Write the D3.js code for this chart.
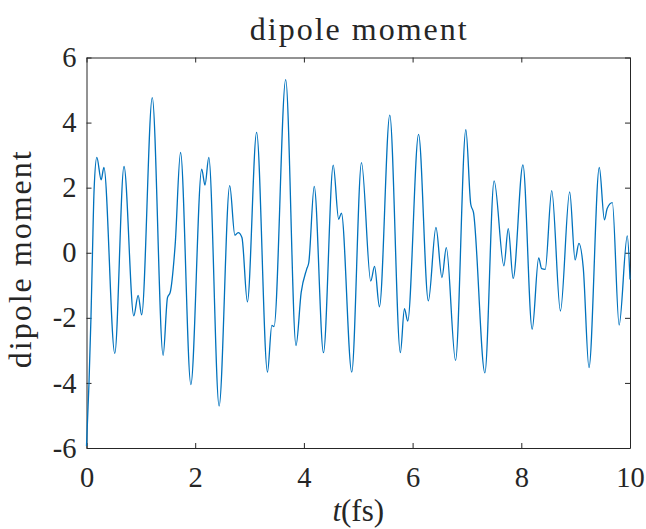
<!DOCTYPE html>
<html><head><meta charset="utf-8">
<script src="https://cdn.jsdelivr.net/npm/d3@7"></script>
<style>body{margin:0;background:#fff}svg{display:block}text{font-family:"Liberation Serif","DejaVu Serif",serif;fill:#262626}</style>
</head><body><svg id="c" width="646" height="529"></svg>
<script>
const tVals = [0,0.046,0.083,0.11,0.14,0.19,0.27,0.32,0.52,0.69,0.87,0.95,1.015,1.21,1.41,1.49,1.54,1.63,1.73,1.92,2.12,2.18,2.25,2.44,2.635,2.73,2.79,2.86,2.96,3.13,3.33,3.41,3.45,3.665,3.855,3.95,4.05,4.09,4.19,4.36,4.54,4.64,4.69,4.88,5.06,5.23,5.30,5.39,5.58,5.775,5.85,5.91,6.11,6.29,6.43,6.54,6.62,6.79,6.98,7.07,7.12,7.33,7.50,7.68,7.76,7.85,8.03,8.20,8.32,8.375,8.44,8.56,8.72,8.89,8.99,9.06,9.14,9.245,9.435,9.53,9.58,9.675,9.80,9.95,10.0];
const dVals = [-5.94,-4.0,-1.94,0,1.95,2.93,2.24,2.62,-3.09,2.65,-1.94,-1.31,-1.91,4.77,-3.15,-1.38,-1.22,0.21,3.08,-4.05,2.57,2.08,2.93,-4.71,2.06,0.54,0.62,0.47,-1.51,3.70,-3.67,-2.23,-2.27,5.32,-2.85,-1.22,-0.51,-0.30,2.04,-3.07,2.69,1.03,1.22,-3.67,2.77,-0.87,-0.42,-1.66,4.23,-3.07,-1.72,-2.10,3.64,-1.48,0.78,-0.76,0.16,-3.31,3.78,1.49,1.24,-3.69,2.21,-0.40,0.74,-0.79,2.70,-2.35,-0.16,-0.49,-0.51,1.91,-1.79,1.87,-0.22,0.29,-0.46,-3.53,2.62,1.01,1.36,1.54,-2.22,0.52,-0.82];
const xTicks = [0,2,4,6,8,10];
const yTicks = [-6,-4,-2,0,2,4,6];
const titleText = "dipole moment";
const yLabel = "dipole moment";

const svg = d3.select("#c");
const L=86.5,R=630,T=57.5,B=448;
const x = d3.scaleLinear().domain([0,10]).range([L,R]);
const y = d3.scaleLinear().domain([-6,6]).range([B,T]);
const data = tVals.map((t,i)=>({t, v:dVals[i]}));

const ax = "#262626";
const fs = 28.5;
const gB = svg.append("g").attr("transform",`translate(0,${B})`)
  .call(d3.axisBottom(x).tickValues(xTicks).tickSizeInner(-5).tickSizeOuter(0).tickPadding(19).tickFormat(d3.format("d")));
const gT = svg.append("g").attr("transform",`translate(0,${T})`)
  .call(d3.axisTop(x).tickValues(xTicks).tickSizeInner(-5).tickSizeOuter(0).tickFormat(""));
const gL = svg.append("g").attr("transform",`translate(${L},0)`)
  .call(d3.axisLeft(y).tickValues(yTicks).tickSizeInner(-5).tickSizeOuter(0).tickPadding(10).tickFormat(d=>String(d).replace("−","-")));
const gR = svg.append("g").attr("transform",`translate(${R},0)`)
  .call(d3.axisRight(y).tickValues(yTicks).tickSizeInner(-5).tickSizeOuter(0).tickFormat(""));
[gB,gT,gL,gR].forEach(g=>{
  g.select(".domain").attr("stroke",ax).attr("stroke-width",1);
  g.selectAll(".tick line").attr("stroke",ax).attr("stroke-width",1);
  g.selectAll(".tick text").attr("font-size",fs).attr("font-family","Liberation Serif").attr("fill",ax);
});
gB.selectAll(".tick text").attr("dy","0.71em");

svg.append("path").datum(data)
  .attr("fill","none").attr("stroke","#0072BD").attr("stroke-width",1.3)
  .attr("d", d3.line().x(d=>x(d.t)).y(d=>y(d.v)).curve(d3.curveMonotoneX));

svg.append("text").attr("x",(L+R)/2 + 1).attr("y",40).attr("text-anchor","middle")
  .attr("font-size",32).attr("letter-spacing",2).text(titleText);
const xl = svg.append("text").attr("x",(L+R)/2).attr("y",521).attr("text-anchor","middle").attr("font-size",31);
xl.append("tspan").attr("font-style","italic").text("t");
xl.append("tspan").text("(fs)");
svg.append("text").attr("transform",`translate(31,${(T+B)/2 + 6}) rotate(-90)`).attr("text-anchor","middle")
  .attr("font-size",32).attr("letter-spacing",2).text(yLabel);
</script></body></html>
